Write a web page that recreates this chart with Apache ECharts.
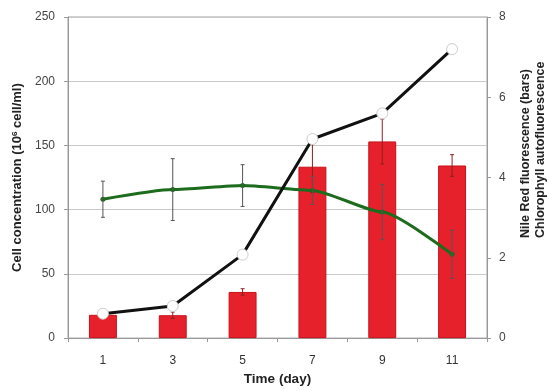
<!DOCTYPE html>
<html><head><meta charset="utf-8">
<script src="https://cdn.jsdelivr.net/npm/echarts@6/dist/echarts.min.js"></script>
<style>html,body{margin:0;padding:0;background:#fff}#c{width:549px;height:391px}</style>
</head><body><div id="c"></div>
<script>
const days = ['1','3','5','7','9','11'];
const cellConc = [19, 25, 65, 155, 175, 225];           // left axis
const nileRed = [0.58, 0.57, 1.15, 4.27, 4.9, 4.3];     // right axis (bars)
const nileRedErr = [0.05, 0.08, 0.08, 0.65, 0.56, 0.27];
const chloro = [3.46, 3.7, 3.8, 3.68, 3.14, 2.09];      // right axis (green)
const chloroErr = [0.45, 0.77, 0.52, 0.35, 0.69, 0.6];
const leftTicks = [0, 50, 100, 150, 200, 250];
const rightTicks = [0, 2, 4, 6, 8];

const chart = echarts.init(document.getElementById('c'));
function errSeries(vals, errs, color) {
  return {
    type: 'custom', yAxisIndex: 1, z: 5,
    renderItem: function (params, api) {
      const i = api.value(0);
      const hi = api.coord([i, api.value(1)]);
      const lo = api.coord([i, api.value(2)]);
      const w = 2;
      return { type: 'group', children: [
        { type: 'line', shape: { x1: hi[0], y1: hi[1], x2: lo[0], y2: lo[1] }, style: { stroke: color, lineWidth: 1 } },
        { type: 'line', shape: { x1: hi[0]-w, y1: hi[1], x2: hi[0]+w, y2: hi[1] }, style: { stroke: color, lineWidth: 1 } },
        { type: 'line', shape: { x1: lo[0]-w, y1: lo[1], x2: lo[0]+w, y2: lo[1] }, style: { stroke: color, lineWidth: 1 } }
      ]};
    },
    data: vals.map((v, i) => [i, v + errs[i], v - errs[i]])
  };
}
const nameFont = { fontFamily: 'Liberation Sans, Arial, sans-serif', fontSize: 12.5, fontWeight: 'bold', fill: '#222', textAlign: 'left', textVerticalAlign: 'middle' };
chart.setOption({
  animation: false,
  textStyle: { fontFamily: 'Liberation Sans, Arial, sans-serif' },
  grid: { left: 68, right: 62, top: 17, bottom: 45, show: true, borderColor: '#a0a0a0', borderWidth: 1 },
  graphic: [
    { type: 'text', x: 526, y: 238, rotation: Math.PI / 2, style: Object.assign({ text: 'Nile Red fluorescence (bars)' }, nameFont) },
    { type: 'text', x: 541, y: 238, rotation: Math.PI / 2, style: Object.assign({ text: 'Chlorophyll autofluorescence' }, nameFont) }
  ],
  xAxis: {
    type: 'category', data: days,
    name: 'Time (day)', nameLocation: 'middle', nameGap: 31,
    nameTextStyle: { fontSize: 13.5, fontWeight: 'bold', color: '#222' },
    axisLine: { lineStyle: { color: '#999' } },
    axisTick: { show: true, length: 4, lineStyle: { color: '#999' } },
    axisLabel: { color: '#333', fontSize: 12, margin: 17 }
  },
  yAxis: [{
    type: 'value', min: 0, max: 250, interval: 50,
    name: 'Cell concentration (10{sup|6} cell/ml)', nameLocation: 'middle', nameGap: 40,
    nameTextStyle: { fontSize: 13, fontWeight: 'bold', color: '#222', rich: { sup: { fontSize: 8, fontWeight: 'bold', color: '#222', verticalAlign: 'top', padding: [0,0,6,0] } } },
    axisLine: { show: true, lineStyle: { color: '#999' } },
    axisTick: { show: true, length: 4, lineStyle: { color: '#999' } },
    axisLabel: { color: '#444', fontSize: 12, margin: 13 },
    splitLine: { lineStyle: { color: '#c8c8c8' } }
  }, {
    type: 'value', min: 0, max: 8, interval: 2, position: 'right',
    axisLine: { show: true, lineStyle: { color: '#999' } },
    axisTick: { show: true, length: 4, lineStyle: { color: '#999' } },
    axisLabel: { color: '#444', fontSize: 12, margin: 12 },
    splitLine: { show: false }
  }],
  series: [
    { type: 'bar', yAxisIndex: 1, data: nileRed, barWidth: '40%',
      itemStyle: { color: '#e6212c', borderColor: '#c8101a', borderWidth: 1 }, z: 2 },
    errSeries(nileRed, nileRedErr, '#8a2020'),
    { type: 'line', yAxisIndex: 1, data: chloro, smooth: 0.2, smoothMonotone: 'x', symbol: 'circle', symbolSize: 5,
      lineStyle: { color: '#1d6b1d', width: 3 }, itemStyle: { color: '#1d6b1d' }, z: 4 },
    errSeries(chloro, chloroErr, '#555'),
    { type: 'line', yAxisIndex: 0, data: cellConc, symbol: 'circle', symbolSize: 11,
      lineStyle: { color: '#111', width: 3 }, itemStyle: { color: '#fff', borderColor: '#ccc', borderWidth: 1 }, z: 6 }
  ]
});
</script></body></html>
